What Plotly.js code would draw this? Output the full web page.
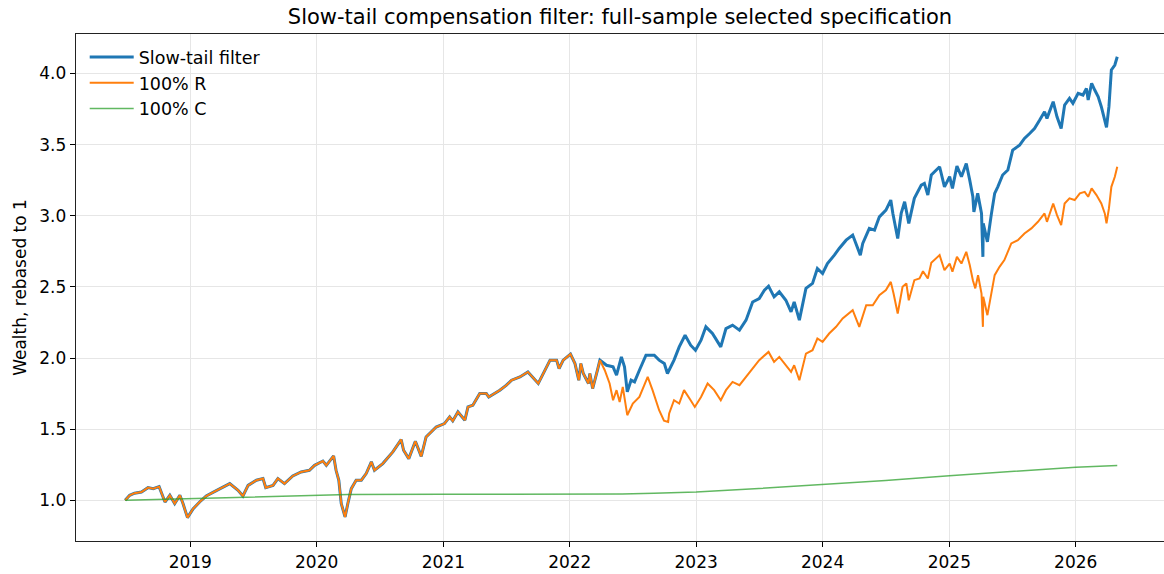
<!DOCTYPE html>
<html>
<head>
<meta charset="utf-8">
<script src="https://cdn.plot.ly/plotly-3.0.1.min.js"></script>
<style>
  html, body { margin: 0; padding: 0; background: #ffffff; }
  #chart { width: 1164px; height: 574px; }
</style>
</head>
<body>
<div id="chart"></div>
<script>
// ---- Shared path (filter identical to 100% R until the split, end of March 2022) ----
const sharedDates = [
  "2018-06-27","2018-07-10","2018-07-24","2018-08-13","2018-09-01","2018-09-16","2018-10-03","2018-10-10",
  "2018-10-20","2018-11-03","2018-11-17","2018-12-02","2018-12-11","2018-12-24","2019-01-09","2019-01-28",
  "2019-02-16","2019-03-13","2019-04-05","2019-04-25","2019-05-19","2019-06-02","2019-06-17","2019-07-11",
  "2019-07-30","2019-08-07","2019-08-28","2019-09-11","2019-09-30","2019-10-24","2019-11-17","2019-12-11",
  "2019-12-26","2020-01-19","2020-01-29","2020-02-19","2020-02-26","2020-03-05","2020-03-12","2020-03-23",
  "2020-03-31","2020-04-10","2020-04-24","2020-05-09","2020-05-23","2020-06-07","2020-06-16","2020-07-10",
  "2020-08-08","2020-09-01","2020-09-08","2020-09-23","2020-10-12","2020-10-29","2020-11-12","2020-12-11",
  "2021-01-04","2021-01-19","2021-01-28","2021-02-12","2021-03-04","2021-03-13","2021-03-27","2021-04-16",
  "2021-05-05","2021-05-12","2021-06-13","2021-07-02","2021-07-17","2021-08-10","2021-09-02","2021-10-02",
  "2021-11-05","2021-11-24","2021-12-01","2021-12-13","2022-01-03","2022-01-16","2022-01-27","2022-02-02",
  "2022-02-09","2022-02-24","2022-02-28","2022-03-08","2022-03-23","2022-03-29"
];
const sharedValues = [
  1.000,1.035,1.050,1.058,1.089,1.082,1.096,1.047,
  0.988,1.035,0.977,1.035,0.977,0.878,0.940,0.988,
  1.030,1.063,1.094,1.117,1.070,1.030,1.105,1.141,
  1.153,1.089,1.105,1.153,1.117,1.171,1.199,1.211,
  1.246,1.276,1.246,1.312,1.211,1.141,0.977,0.883,
  0.977,1.082,1.141,1.141,1.188,1.270,1.211,1.258,
  1.340,1.427,1.352,1.293,1.415,1.309,1.445,1.515,
  1.539,1.586,1.558,1.621,1.563,1.656,1.668,1.750,
  1.750,1.726,1.774,1.809,1.844,1.867,1.902,1.821,
  1.985,1.985,1.926,1.985,2.027,1.961,1.844,1.961,
  1.891,1.821,1.891,1.785,1.926,1.985
];

// ---- 100% R after the split ----
const rDates = [
  "2022-04-12","2022-04-26","2022-05-06","2022-05-16","2022-05-25","2022-06-03","2022-06-16","2022-07-02",
  "2022-07-21","2022-08-14","2022-08-28","2022-09-16","2022-09-30","2022-10-12","2022-10-15","2022-10-29",
  "2022-11-13","2022-11-27","2022-12-16","2022-12-28","2023-01-15","2023-02-03","2023-02-22","2023-03-13",
  "2023-03-28","2023-04-16","2023-05-06","2023-05-25","2023-06-08","2023-06-27","2023-07-02","2023-07-29",
  "2023-08-14","2023-08-29","2023-09-17","2023-10-02","2023-10-11","2023-10-26","2023-11-14","2023-12-03",
  "2023-12-17","2024-01-01","2024-01-20","2024-02-09","2024-02-28","2024-03-28","2024-04-16","2024-05-06",
  "2024-05-25","2024-06-13","2024-07-02","2024-07-16","2024-07-24","2024-08-05","2024-08-19","2024-08-30",
  "2024-09-06","2024-09-22","2024-10-07","2024-10-17","2024-10-31","2024-11-10","2024-12-04","2024-12-18",
  "2025-01-02","2025-01-10","2025-01-23","2025-02-05","2025-02-19","2025-03-01","2025-03-10","2025-03-17",
  "2025-03-25","2025-04-04","2025-04-08","2025-04-09","2025-04-21","2025-05-02","2025-05-12","2025-05-26",
  "2025-06-09","2025-06-29","2025-07-18","2025-08-06","2025-08-26","2025-09-14","2025-10-03","2025-10-10",
  "2025-10-28","2025-11-08","2025-11-20","2025-11-30","2025-12-14","2025-12-29","2026-01-13","2026-01-27",
  "2026-02-06","2026-02-16","2026-03-02","2026-03-16","2026-03-26","2026-03-31","2026-04-07","2026-04-14",
  "2026-04-24","2026-05-01"
];
const rValues = [
  1.914,1.821,1.703,1.774,1.691,1.797,1.598,1.680,
  1.726,1.867,1.774,1.633,1.560,1.551,1.610,1.703,
  1.680,1.774,1.703,1.656,1.726,1.821,1.774,1.703,
  1.774,1.832,1.809,1.867,1.914,1.973,1.985,2.043,
  1.973,2.008,1.949,1.902,1.949,1.844,2.031,2.055,
  2.137,2.113,2.172,2.219,2.278,2.336,2.219,2.371,
  2.371,2.442,2.477,2.535,2.453,2.313,2.500,2.524,
  2.406,2.547,2.559,2.610,2.559,2.670,2.723,2.617,
  2.664,2.606,2.711,2.664,2.746,2.653,2.547,2.489,
  2.582,2.453,2.219,2.430,2.301,2.453,2.582,2.641,
  2.688,2.805,2.828,2.875,2.911,2.957,3.016,2.957,
  3.086,3.004,2.934,3.086,3.122,3.110,3.157,3.168,
  3.133,3.192,3.145,3.086,3.016,2.946,3.051,3.203,
  3.274,3.344
];

// ---- Slow-tail filter after the split ----
const fDates = [
  "2022-04-17","2022-05-06","2022-05-16","2022-05-30","2022-06-08","2022-06-16","2022-06-27","2022-07-07",
  "2022-07-21","2022-08-09","2022-09-02","2022-09-16","2022-10-01","2022-10-10","2022-10-29","2022-11-13",
  "2022-11-30","2022-12-16","2022-12-30","2023-01-15","2023-01-29","2023-02-17","2023-03-13","2023-03-28",
  "2023-04-16","2023-05-06","2023-05-25","2023-06-13","2023-07-02","2023-07-17","2023-07-29","2023-08-14",
  "2023-08-29","2023-09-17","2023-10-02","2023-10-11","2023-10-26","2023-11-14","2023-12-03","2023-12-17",
  "2024-01-01","2024-01-15","2024-02-04","2024-02-18","2024-03-09","2024-03-28","2024-04-19","2024-04-26",
  "2024-05-15","2024-05-30","2024-06-13","2024-07-02","2024-07-16","2024-07-22","2024-08-05","2024-08-15",
  "2024-08-25","2024-09-06","2024-09-22","2024-10-07","2024-10-12","2024-10-21","2024-10-31","2024-11-10",
  "2024-12-04","2024-12-18","2025-01-02","2025-01-10","2025-01-23","2025-02-05","2025-02-19","2025-03-01",
  "2025-03-10","2025-03-13","2025-03-24","2025-04-04","2025-04-08","2025-04-09","2025-04-21","2025-05-02",
  "2025-05-12","2025-05-21","2025-06-04","2025-06-19","2025-07-03","2025-07-23","2025-08-06","2025-08-21",
  "2025-09-04","2025-09-19","2025-10-03","2025-10-10","2025-10-28","2025-11-08","2025-11-20","2025-11-30",
  "2025-12-14","2025-12-24","2026-01-08","2026-01-22","2026-02-01","2026-02-06","2026-02-16","2026-02-25",
  "2026-03-07","2026-03-16","2026-03-26","2026-03-31","2026-04-07","2026-04-14","2026-04-24","2026-05-01"
];
const fValues = [
  1.949,1.938,1.879,2.008,1.938,1.762,1.844,1.832,
  1.914,2.020,2.020,1.985,1.961,1.891,1.985,2.078,
  2.160,2.090,2.055,2.125,2.219,2.172,2.078,2.207,
  2.231,2.196,2.266,2.394,2.418,2.477,2.505,2.430,
  2.465,2.406,2.324,2.394,2.266,2.489,2.524,2.629,
  2.594,2.664,2.723,2.770,2.828,2.864,2.723,2.805,
  2.911,2.899,2.992,3.039,3.110,3.016,2.840,3.016,
  3.098,2.946,3.122,3.192,3.215,3.227,3.145,3.286,
  3.344,3.203,3.274,3.192,3.349,3.274,3.367,3.250,
  3.133,3.027,3.157,3.016,2.711,2.946,2.816,3.004,
  3.157,3.203,3.286,3.321,3.461,3.496,3.543,3.578,
  3.613,3.672,3.730,3.684,3.801,3.695,3.613,3.778,
  3.825,3.790,3.860,3.848,3.895,3.813,3.930,3.883,
  3.836,3.766,3.672,3.621,3.766,4.024,4.059,4.117
];

// ---- 100% C ----
const cDates = [
  "2018-06-27","2019-01-01","2019-07-01","2020-01-01","2020-04-01","2021-01-01","2022-01-01","2022-06-01",
  "2022-09-01","2023-01-01","2023-07-01","2024-01-01","2024-07-01","2025-01-01","2025-07-01","2026-01-01",
  "2026-05-01"
];
const cValues = [
  1.000,1.011,1.023,1.035,1.040,1.042,1.043,1.045,
  1.049,1.058,1.083,1.111,1.140,1.172,1.203,1.233,
  1.244
];

const seriesNames = ["Slow-tail filter", "100% R", "100% C"];
const yTickVals = [1.0, 1.5, 2.0, 2.5, 3.0, 3.5, 4.0];

const FONT = "DejaVu Sans, sans-serif";

const traces = [
  {
    x: sharedDates.concat(fDates), y: sharedValues.concat(fValues),
    type: "scatter", mode: "lines", name: seriesNames[0], legendgroup: "a",
    line: { color: "#1f77b4", width: 3 }
  },
  {
    x: sharedDates.concat(rDates), y: sharedValues.concat(rValues),
    type: "scatter", mode: "lines", name: seriesNames[1], legendgroup: "b",
    line: { color: "#ff7f0e", width: 2 }
  },
  {
    x: cDates, y: cValues,
    type: "scatter", mode: "lines", name: seriesNames[2], legendgroup: "c",
    line: { color: "rgba(44,160,44,0.75)", width: 1.5 }
  }
];

const layout = {
  width: 1164, height: 574,
  margin: { l: 76, r: 0, t: 34, b: 33 },
  paper_bgcolor: "#ffffff", plot_bgcolor: "#ffffff",
  font: { family: FONT, size: 16, color: "#000000" },
  title: {
    text: "Slow-tail compensation filter: full-sample selected specification",
    font: { family: FONT, size: 21, color: "#000000" },
    x: 0.5, xref: "paper", xanchor: "center",
    y: 1, yref: "container", yanchor: "top", pad: { t: 9 }
  },
  showlegend: true,
  legend: {
    x: 0.008, y: 0.99, xanchor: "left", yanchor: "top",
    bgcolor: "rgba(0,0,0,0)", borderwidth: 0,
    font: { family: FONT, size: 17.5, color: "#000000" },
    traceorder: "grouped", tracegroupgap: 0, itemwidth: 44
  },
  xaxis: {
    type: "date",
    range: ["2018-02-05", "2026-09-13"],
    tick0: "2019-01-01", dtick: "M12", tickformat: "%Y",
    ticks: "outside", ticklen: 5, tickwidth: 1, tickcolor: "#000000",
    showgrid: true, gridcolor: "#e6e6e6", gridwidth: 1,
    showline: true, linecolor: "#222222", linewidth: 1.3, mirror: true,
    zeroline: false,
    tickfont: { family: FONT, size: 17, color: "#000000" }
  },
  yaxis: {
    range: [0.714, 4.277],
    tickvals: yTickVals, tickformat: ".1f",
    ticks: "outside", ticklen: 5, tickwidth: 1, tickcolor: "#000000",
    showgrid: true, gridcolor: "#e6e6e6", gridwidth: 1,
    showline: true, linecolor: "#222222", linewidth: 1.3, mirror: false,
    zeroline: false,
    tickfont: { family: FONT, size: 17, color: "#000000" },
    title: { text: "Wealth, rebased to 1", font: { family: FONT, size: 17, color: "#000000" }, standoff: 8 }
  }
};

Plotly.newPlot("chart", traces, layout, { staticPlot: true, displayModeBar: false });
</script>
</body>
</html>
